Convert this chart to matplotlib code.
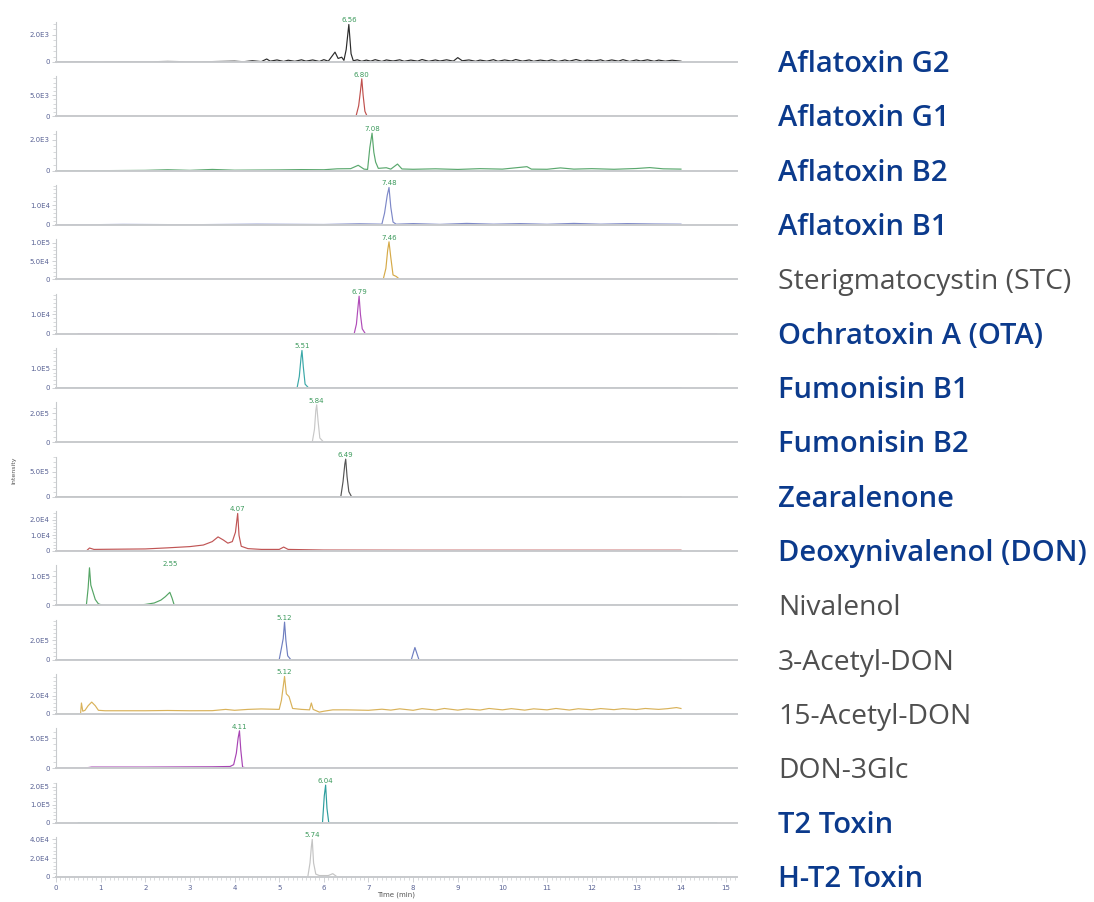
import numpy as np
import matplotlib
matplotlib.use("Agg")
import matplotlib.pyplot as plt
import matplotlib.ticker as mtick

# compound names (top to bottom) and whether they are in the highlighted group
compounds = ['Aflatoxin G2', 'Aflatoxin G1', 'Aflatoxin B2', 'Aflatoxin B1',
             'Sterigmatocystin (STC)', 'Ochratoxin A (OTA)', 'Fumonisin B1',
             'Fumonisin B2', 'Zearalenone', 'Deoxynivalenol (DON)', 'Nivalenol',
             '3-Acetyl-DON', '15-Acetyl-DON', 'DON-3Glc', 'T2 Toxin', 'H-T2 Toxin']
highlight = [True, True, True, True, False, True, True, True, True, True,
             False, False, False, False, True, True]

# retention-time labels shown above peaks: (time, text)
peak_lbl_t = [6.56, 6.85, 7.08, 7.46, 7.46, 6.79, 5.51, 5.84, 6.49, 4.07, 2.55, 5.12, 5.12, 4.11, 6.04, 5.74]
peak_lbl_s = ['6.56', '6.80', '7.08', '7.48', '7.46', '6.79', '5.51', '5.84', '6.49', '4.07', '2.55', '5.12', '5.12', '4.11', '6.04', '5.74']

# y tick values of each panel
yticks = [[0, 2000], [0, 5000], [0, 2000], [0, 10000], [0, 50000, 100000],
          [0, 10000], [0, 100000], [0, 200000], [0, 500000], [0, 10000, 20000],
          [0, 100000], [0, 200000], [0, 20000], [0, 500000], [0, 100000, 200000],
          [0, 20000, 40000]]

# traces (time in min, intensity in counts)
t_g2 = [0, 0.5, 1.0, 1.5, 2.0, 2.5, 3.0, 3.5, 4.0, 4.2, 4.4, 4.6, 4.72, 4.8, 4.95, 5.1, 5.2, 5.35, 5.5,
        5.6, 5.75, 5.9, 6.0, 6.1, 6.15, 6.25, 6.32, 6.40, 6.45, 6.50, 6.56, 6.61, 6.66, 6.75, 6.85,
        6.95, 7.05, 7.15, 7.3, 7.4, 7.55, 7.7, 7.8, 7.95, 8.1, 8.2, 8.35, 8.5, 8.6, 8.75, 8.9, 9.0,
        9.1, 9.25, 9.4, 9.5, 9.65, 9.8, 9.9, 10.05, 10.2, 10.3, 10.45, 10.6, 10.7, 10.85, 11.0, 11.1,
        11.25, 11.4, 11.5, 11.65, 11.8, 11.9, 12.05, 12.2, 12.3, 12.45, 12.6, 12.7, 12.85, 13.0, 13.1,
        13.25, 13.4, 13.5, 13.65, 13.8, 14.0]
i_g2 = [0, 20, 10, 30, 15, 40, 20, 30, 60, 20, 90, 30, 220, 60, 150, 40, 130, 50, 160,
        60, 150, 40, 170, 60, 280, 720, 260, 350, 120, 900, 2740, 600, 90, 160, 50,
        140, 60, 170, 40, 150, 70, 160, 50, 140, 60, 180, 50, 150, 70, 160, 60, 320,
        90, 150, 50, 140, 60, 170, 50, 150, 70, 180, 60, 150, 50, 140, 70, 160,
        40, 150, 60, 180, 50, 140, 70, 160, 50, 150, 60, 170, 40, 150, 70,
        160, 50, 140, 60, 130, 60]

t_g1 = [0, 6.72, 6.78, 6.82, 6.85, 6.88, 6.92, 6.97, 14.0]
i_g1 = [0, 0, 2500, 6000, 8900, 5000, 1200, 0, 0]

t_b2 = [0, 1.0, 2.0, 2.5, 3.0, 3.5, 4.0, 4.5, 5.0, 5.5, 6.0, 6.3, 6.6, 6.77, 6.9, 6.98, 7.03, 7.08,
        7.12, 7.16, 7.22, 7.4, 7.5, 7.65, 7.75, 8.0, 8.5, 9.0, 9.5, 10.0, 10.55, 10.65, 11.0, 11.3,
        11.6, 12.0, 12.5, 13.0, 13.3, 13.6, 14.0]
i_b2 = [0, 0, 20, 60, 20, 80, 30, 40, 50, 70, 60, 120, 130, 350, 100, 80, 1500, 2440,
        1200, 560, 150, 190, 100, 430, 110, 90, 120, 80, 130, 100, 260, 100, 90, 180,
        100, 130, 90, 140, 200, 120, 100]

t_b1 = [0, 1.5, 3.0, 4.5, 6.0, 6.8, 7.30, 7.36, 7.42, 7.46, 7.50, 7.55, 7.62, 8.0, 8.6, 9.2, 9.8,
        10.4, 11.0, 11.6, 12.2, 12.8, 13.4, 14.0]
i_b1 = [0, 300, 150, 400, 250, 600, 400, 6000, 15000, 19000, 9000, 1500, 400, 700, 300, 800, 400,
        700, 350, 800, 400, 700, 500, 400]

t_stc = [0.5, 7.33, 7.39, 7.43, 7.46, 7.50, 7.55, 7.62, 7.70, 14.8]
i_stc = [0, 0, 30000, 80000, 103000, 60000, 12000, 8000, 0, 0]

t_ota = [0.5, 6.68, 6.73, 6.77, 6.79, 6.82, 6.86, 6.93, 14.8]
i_ota = [0, 0, 5000, 15000, 19500, 10000, 2500, 0, 0]

t_fb1 = [0, 5.40, 5.45, 5.49, 5.51, 5.54, 5.58, 5.66, 14.0]
i_fb1 = [0, 0, 60000, 160000, 195000, 110000, 20000, 0, 0]

t_fb2 = [0, 5.74, 5.79, 5.82, 5.84, 5.87, 5.91, 6.0, 14.0]
i_fb2 = [0, 0, 90000, 220000, 260000, 150000, 30000, 0, 0]

t_zen = [0, 6.38, 6.43, 6.47, 6.49, 6.52, 6.56, 6.62, 14.0]
i_zen = [0, 0, 300000, 650000, 750000, 400000, 100000, 0, 0]

t_don = [0, 0.68, 0.75, 0.85, 1.2, 1.6, 2.0, 2.5, 3.0, 3.3, 3.5, 3.63, 3.75, 3.85, 3.95, 4.02, 4.07,
         4.10, 4.15, 4.3, 4.6, 5.0, 5.1, 5.2, 6.0, 8.0, 10.0, 12.0, 14.0]
i_don = [0, 0, 1900, 1000, 1100, 1200, 1300, 2000, 2800, 3800, 6000, 9000, 7000, 5000, 6000, 12000, 24000,
         10000, 3000, 1500, 1000, 1000, 2500, 1000, 600, 500, 500, 500, 500]

t_niv = [0, 0.68, 0.72, 0.75, 0.78, 0.82, 0.88, 0.95, 1.05, 1.8, 2.0, 2.2, 2.35, 2.45, 2.55, 2.6, 2.65, 14.0]
i_niv = [0, 0, 60000, 130000, 70000, 50000, 20000, 5000, 0, 0, 3000, 8000, 18000, 30000, 45000, 25000, 0, 0]

t_3ad = [0, 5.00, 5.05, 5.09, 5.12, 5.15, 5.19, 5.26, 7.96, 8.01, 8.04, 8.08, 8.13, 14.0]
i_3ad = [0, 0, 120000, 220000, 390000, 200000, 40000, 0, 0, 80000, 126000, 70000, 0, 0]

t_15ad = [0, 0.55, 0.57, 0.60, 0.65, 0.72, 0.80, 0.88, 0.95, 1.1, 1.5, 2.0, 2.5, 3.0, 3.5, 3.8, 4.0,
          4.3, 4.6, 5.0, 5.05, 5.09, 5.12, 5.16, 5.22, 5.3, 5.5, 5.68, 5.72, 5.76, 5.9, 6.0, 6.2, 6.5,
          7.0, 7.3, 7.5, 7.7, 8.0, 8.2, 8.5, 8.7, 9.0, 9.2, 9.5, 9.7, 10.0, 10.2, 10.5, 10.7, 11.0,
          11.2, 11.5, 11.7, 12.0, 12.2, 12.5, 12.7, 13.0, 13.2, 13.5, 13.7, 13.9, 14.0]
i_15ad = [0, 0, 12000, 3000, 4000, 9000, 13000, 9000, 4000, 3500, 3500, 3500, 3800, 3500, 3600, 5000, 4000,
          5000, 5500, 5000, 15000, 30000, 41000, 22000, 19000, 6000, 5000, 4500, 12000, 5000, 2000, 3000, 4500, 4500,
          4000, 5200, 4200, 5600, 4000, 5800, 4300, 6000, 4200, 5500, 4300, 6000, 4500, 5800, 4200, 5600, 4500,
          6000, 4300, 5700, 4600, 5900, 4700, 5800, 4800, 6000, 5000, 5800, 7000, 6000]

t_d3g = [0, 0.6, 0.8, 2.0, 3.5, 3.9, 3.98, 4.04, 4.08, 4.11, 4.14, 4.18, 4.3, 14.0]
i_d3g = [0, 0, 20000, 20000, 25000, 30000, 60000, 250000, 500000, 620000, 300000, 20000, 0, 0]

t_t2 = [0.5, 5.97, 6.01, 6.04, 6.07, 6.11, 14.8]
i_t2 = [0, 0, 150000, 210000, 80000, 0, 0]

t_ht2 = [0, 5.64, 5.69, 5.72, 5.74, 5.77, 5.82, 5.9, 6.1, 6.2, 6.3, 14.0]
i_ht2 = [0, 0, 15000, 32000, 40000, 15000, 3000, 1500, 1500, 3500, 0, 0]

times = [t_g2, t_g1, t_b2, t_b1, t_stc, t_ota, t_fb1, t_fb2, t_zen, t_don, t_niv, t_3ad, t_15ad, t_d3g, t_t2, t_ht2]
intens = [i_g2, i_g1, i_b2, i_b1, i_stc, i_ota, i_fb1, i_fb2, i_zen, i_don, i_niv, i_3ad, i_15ad, i_d3g, i_t2, i_ht2]

trace_colors = ['#2b2b2b', '#c0504d', '#5aa86e', '#7d88c8', '#d6aa48', '#b04cb8', '#3aa8a8', '#c8c8c8',
                '#555555', '#c05555', '#55a565', '#6f7fc0', '#d9b25a', '#a844b4', '#2e9e9e', '#c4c4c4']


def sci_fmt(v, pos=None):
    if v == 0:
        return '0'
    e = int(np.floor(np.log10(abs(v))))
    return f'{v / 10**e:.1f}E{e}'


W, H = 1094, 902
fig = plt.figure(figsize=(W / 100, H / 100), dpi=100)
fig.patch.set_facecolor('white')

x0_px, px_per_min, xmax = 56, 44.64, 15.25
panel_h = 40
tick_col = '#5a6395'
spine_col = '#c8cacd'

for i, name in enumerate(compounds):
    base_px = 62 + i * 54.33
    ax = fig.add_axes([x0_px / W, 1 - base_px / H, xmax * px_per_min / W, panel_h / H])
    ax.plot(times[i], intens[i], color=trace_colors[i], lw=0.85)
    top = max(intens[i]) * 40 / 37.5
    ax.set_xlim(0, xmax)
    ax.set_ylim(0, top)
    ax.set_facecolor('none')
    for s in ['top', 'right']:
        ax.spines[s].set_visible(False)
    ax.spines['bottom'].set_color(spine_col)
    ax.spines['bottom'].set_linewidth(1.4)
    ax.spines['left'].set_color(spine_col)
    ax.spines['left'].set_linewidth(0.8)
    ax.yaxis.set_major_locator(mtick.FixedLocator(yticks[i]))
    ax.yaxis.set_major_formatter(mtick.FuncFormatter(sci_fmt))
    ax.yaxis.set_minor_locator(mtick.AutoMinorLocator(5))
    ax.tick_params(axis='y', which='major', length=3, width=0.6, color=spine_col,
                   labelsize=5, labelcolor=tick_col, pad=1.5)
    ax.tick_params(axis='y', which='minor', length=2, width=0.5, color=spine_col)
    if i == len(compounds) - 1:
        ax.xaxis.set_major_locator(mtick.MultipleLocator(1))
        ax.xaxis.set_minor_locator(mtick.MultipleLocator(0.1))
        ax.tick_params(axis='x', which='major', length=3.5, width=0.6, color=spine_col,
                       labelsize=5, labelcolor=tick_col, pad=2)
        ax.tick_params(axis='x', which='minor', length=1.8, width=0.5, color=spine_col)
        ax.set_xlabel('Time (min)', fontsize=5, color='#555555', labelpad=1)
    else:
        ax.set_xticks([])
    # retention time above the peak
    ax.text(peak_lbl_t[i], max(intens[i]) * 1.03, peak_lbl_s[i], ha='center', va='bottom',
            fontsize=5, color='#3c9a5c', clip_on=False)

    fig.text(778 / W, 1 - (base_px + 10) / H, name, ha='left', va='baseline',
             fontsize=21 if highlight[i] else 20.3, family=['Open Sans', 'DejaVu Sans'],
             fontweight=600 if highlight[i] else 'normal',
             color='#0b3a8c' if highlight[i] else '#4f4f4f')

fig.text(14 / W, 1 - 470 / H, 'Intensity', rotation=90, ha='center', va='center',
         fontsize=4.5, color='#555555')

fig.savefig('out.png', dpi=100, facecolor='white')
